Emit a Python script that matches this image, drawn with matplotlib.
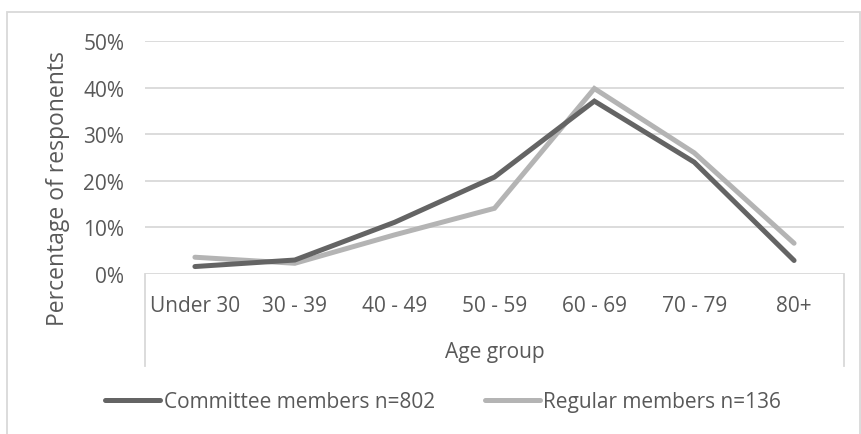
import matplotlib.pyplot as plt
from matplotlib.patches import Rectangle
from matplotlib.lines import Line2D
from matplotlib.ticker import PercentFormatter

plt.rcParams['font.family'] = ['Open Sans', 'DejaVu Sans']

# survey data: share of respondents per age band
age_groups = ["Under 30", "30 - 39", "40 - 49", "50 - 59", "60 - 69", "70 - 79", "80+"]
committee = [0.016, 0.030, 0.111, 0.208, 0.371, 0.240, 0.029]
regular = [0.036, 0.023, 0.084, 0.141, 0.398, 0.260, 0.066]

TEXT = '#595959'
GRID = '#d9d9d9'

fig = plt.figure(figsize=(8.61, 4.35), dpi=100)
ax = fig.add_axes([145 / 861, 160 / 435, 699 / 861, 233 / 435])

x = range(len(age_groups))
ax.plot(x, committee, color='#646464', lw=3.6, solid_capstyle='round',
        solid_joinstyle='miter', label='Committee members n=802', zorder=3)
ax.plot(x, regular, color='#b4b4b4', lw=3.6, solid_capstyle='round',
        solid_joinstyle='miter', label='Regular members n=136', zorder=2)

ax.set_xlim(-0.5, len(age_groups) - 0.5)
ax.set_ylim(0, 0.5)
yt = [0, 0.1, 0.2, 0.3, 0.4, 0.5]
ax.set_yticks(yt)
ax.yaxis.set_major_formatter(PercentFormatter(1.0, decimals=0))
for v in yt:
    ax.axhline(v, color=GRID, lw=1.3, zorder=1)
for s in ax.spines.values():
    s.set_visible(False)

ax.set_xticks(list(x))
ax.set_xticklabels(age_groups)
ax.tick_params(axis='x', length=0, pad=15, labelsize=15, labelcolor=TEXT)
ax.tick_params(axis='y', length=0, pad=15, labelsize=15, labelcolor=TEXT)

# category axis box below the plot
for xx in (0, 1):
    ax.add_line(Line2D([xx, xx], [0, -92 / 233], transform=ax.transAxes,
                       color=GRID, lw=1.3, clip_on=False))

ax.set_xlabel('Age group', fontsize=15, color=TEXT)
ax.xaxis.set_label_coords(0.5, -(353 - 275) / 233)
ax.xaxis.label.set_va('center')
ax.set_ylabel('Percentage of responents', fontsize=16.5, color=TEXT)
ax.yaxis.set_label_coords(-(145 - 58) / 699, (275 - 188.5) / 233)
ax.yaxis.label.set_va('center')

fig.legend(loc='center', bbox_to_anchor=(443 / 861, 1 - 403 / 435), ncol=2,
           frameon=False, fontsize=15, labelcolor=TEXT, handlelength=2.65,
           handletextpad=0.15, columnspacing=2.4, borderpad=0)

# outer chart border
fig.patches.append(Rectangle((7 / 861, -0.1), 853 / 861, 1.1 - 13 / 435,
                             transform=fig.transFigure, fill=False,
                             edgecolor=GRID, lw=1.3))

fig.savefig('out.png', dpi=100)
